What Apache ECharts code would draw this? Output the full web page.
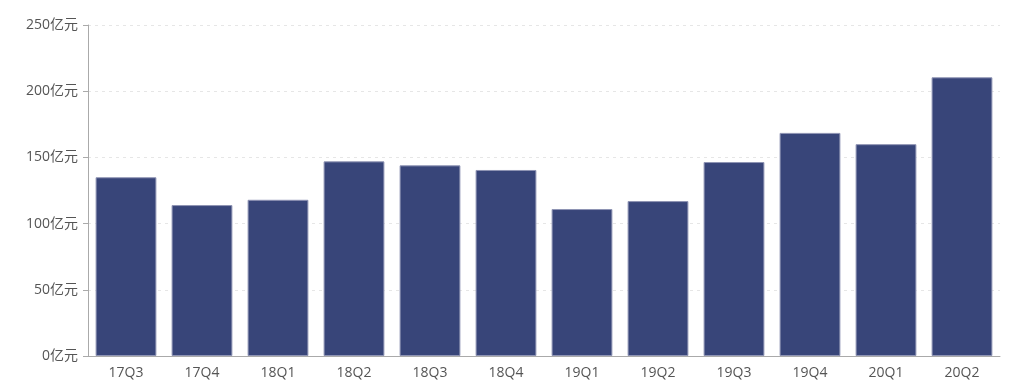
<!DOCTYPE html>
<html><head><meta charset="utf-8">
<script src="https://cdn.jsdelivr.net/npm/echarts@6/dist/echarts.min.js"></script>
<style>html,body{margin:0;padding:0;background:#fff}#c{width:1019px;height:388px}</style>
</head><body><div id="c"></div>
<script>
const categories = ['17Q3','17Q4','18Q1','18Q2','18Q3','18Q4','19Q1','19Q2','19Q3','19Q4','20Q1','20Q2'];
const values = [135, 114, 118, 147, 144, 140.5, 111, 117, 146.5, 168.5, 160, 210.5];
const unit = '亿元';
const font = "'Open Sans','Noto Sans CJK SC',sans-serif";
const chart = echarts.init(document.getElementById('c'));
chart.setOption({
  animation: false,
  grid: {left: 88, right: 19, top: 25, bottom: 32},
  xAxis: {
    type: 'category', data: categories,
    axisLine: {lineStyle: {color: '#aaa'}},
    axisTick: {lineStyle: {color: '#aaa'}},
    axisLabel: {color: '#555', fontSize: 14, fontFamily: font, margin: 10}
  },
  yAxis: {
    type: 'value', min: 0, max: 250, interval: 50,
    axisLine: {show: true, lineStyle: {color: '#aaa'}},
    axisTick: {show: true, lineStyle: {color: '#aaa'}},
    splitLine: {lineStyle: {color: '#e6e6e6', type: [3, 4]}},
    axisLabel: {color: '#555', fontSize: 14, fontFamily: font, margin: 10, formatter: v => v + unit}
  },
  series: [{
    type: 'bar', data: values, barCategoryGap: '20%',
    itemStyle: {color: '#384579', borderColor: '#8f94b4', borderWidth: 1}
  }]
});
</script></body></html>
